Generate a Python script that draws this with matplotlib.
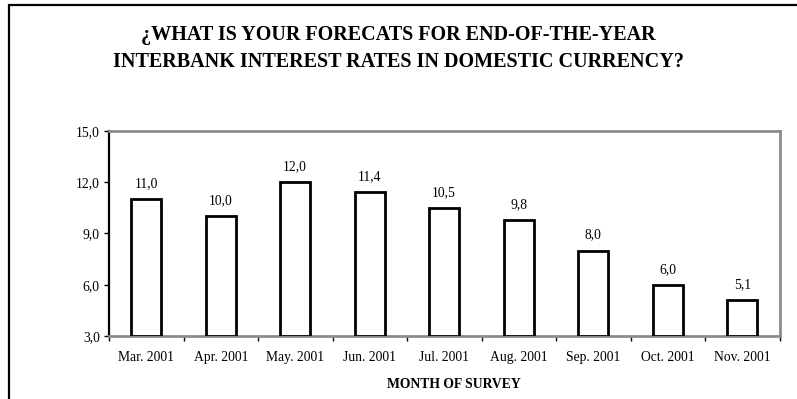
import matplotlib
matplotlib.use('Agg')
import matplotlib.pyplot as plt
from matplotlib.patches import Rectangle
from matplotlib.ticker import FixedLocator

# survey months and forecast values
MONTHS = ['Mar. 2001', 'Apr. 2001', 'May. 2001', 'Jun. 2001', 'Jul. 2001',
          'Aug. 2001', 'Sep. 2001', 'Oct. 2001', 'Nov. 2001']
VALUES = [11.0, 10.0, 12.0, 11.4, 10.5, 9.8, 8.0, 6.0, 5.1]
Y_TICKS = [3.0, 6.0, 9.0, 12.0, 15.0]
TITLE = '¿WHAT IS YOUR FORECATS FOR END-OF-THE-YEAR\nINTERBANK INTEREST RATES IN DOMESTIC CURRENCY?'
XLABEL = 'MONTH OF SURVEY'

plt.rcParams['font.family'] = ['Liberation Serif', 'DejaVu Serif']
FS = 9.8

W, H = 797, 399
fig = plt.figure(figsize=(W / 100, H / 100), dpi=100, facecolor='white')

# outer chart frame (only left/top visible in the crop)
fig.patches.append(Rectangle((8.5 / W, -0.1), 1.2, 1.1 - 5.5 / H, transform=fig.transFigure,
                             fill=False, edgecolor='black', lw=1.6))

fig.text(398.5 / W, 1 - 48.5 / H, TITLE, ha='center', va='center', fontsize=14.5,
         fontweight='bold', linespacing=1.42)

ax = fig.add_axes([109 / W, 1 - 336 / H, 670.5 / W, 205 / H])
x = list(range(len(MONTHS)))
bottom = Y_TICKS[0]
ax.bar(x, [v - bottom for v in VALUES], bottom=bottom, width=0.4,
       facecolor='white', edgecolor='black', lw=2, zorder=3)

for xi, v in zip(x, VALUES):
    ax.annotate(f'{v:.1f}'.replace('.', ','), (xi, v), xytext=(0, 6.5), textcoords='offset points',
                ha='center', va='bottom', fontsize=FS)

ax.set_xlim(-0.5, len(MONTHS) - 0.5)
ax.set_ylim(Y_TICKS[0], Y_TICKS[-1])
ax.set_yticks(Y_TICKS)
ax.set_yticklabels([f'{t:.1f}'.replace('.', ',') for t in Y_TICKS], fontsize=FS)

ax.xaxis.set_major_locator(FixedLocator([i - 0.5 for i in range(len(MONTHS) + 1)]))
ax.xaxis.set_minor_locator(FixedLocator(x))
ax.xaxis.set_minor_formatter(plt.FixedFormatter(MONTHS))
ax.tick_params(axis='x', which='major', length=3.6, width=1, color='black', labelbottom=False)
ax.tick_params(axis='x', which='minor', length=0, pad=11, labelsize=FS)
ax.tick_params(axis='y', length=3.6, width=1, color='black', pad=3)

for side in ['top', 'right', 'bottom']:
    ax.spines[side].set_color('#8c8c8c')
    ax.spines[side].set_linewidth(2)
ax.spines['left'].set_color('black')
ax.spines['left'].set_linewidth(1.6)

fig.text(454 / W, 1 - 384 / H, XLABEL, ha='center', va='center', fontsize=FS, fontweight='bold')

fig.savefig('out.png', dpi=100, facecolor='white')
